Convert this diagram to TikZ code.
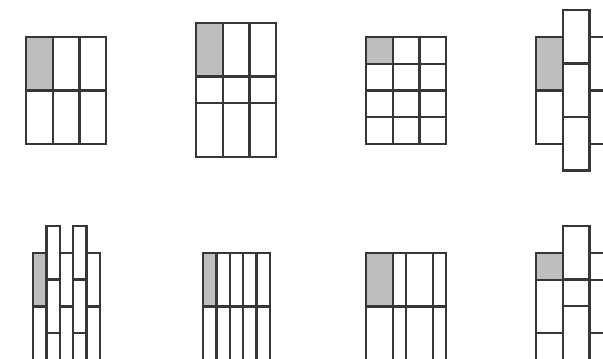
\documentclass[tikz,border=0pt]{standalone}
\begin{document}
\begin{tikzpicture}[x=1pt,y=-1pt]
\definecolor{edge}{RGB}{55,55,55}
\definecolor{shade}{RGB}{190,190,192}
\tikzset{cell/.style={draw=edge,line width=2.3pt},
  shadedcell/.style={fill=shade}}
\def\u{26.75}
\useasboundingbox (0,0) rectangle (603,359);
\clip (0,0) rectangle (603,359);
% shaded fills first
\fill[shadedcell] (26,37) rectangle ++(\u,2*\u);
\fill[shadedcell] (196,23) rectangle ++(\u,2*\u);
\fill[shadedcell] (366,37) rectangle ++(\u,\u);
\fill[shadedcell] (536,37) rectangle ++(\u,2*\u);
\fill[shadedcell] (33,253) rectangle ++(\u/2,2*\u);
\fill[shadedcell] (203,253) rectangle ++(\u/2,2*\u);
\fill[shadedcell] (366,253) rectangle ++(\u,2*\u);
\fill[shadedcell] (536,253) rectangle ++(\u,\u);
% Panel 1: 3 x 2 cells of u x 2u
\foreach \c in {0,1,2}{\foreach \r in {0,1}{
  \draw[cell] (26+\c*\u,37+\r*2*\u) rectangle ++(\u,2*\u);}}
% Panel 2
\foreach \c in {0,1,2}{
  \draw[cell] (196+\c*\u,23) rectangle ++(\u,2*\u);
  \draw[cell] (196+\c*\u,23+2*\u) rectangle ++(\u,\u);
  \draw[cell] (196+\c*\u,23+3*\u) rectangle ++(\u,2*\u);}
% Panel 3
\foreach \c in {0,1,2}{\foreach \r in {0,1,2,3}{
  \draw[cell] (366+\c*\u,37+\r*\u) rectangle ++(\u,\u);}}
% Panel 4
\foreach \r in {0,1}{
  \draw[cell] (536,37+\r*2*\u) rectangle ++(\u,2*\u);
  \draw[cell] (536+2*\u,37+\r*2*\u) rectangle ++(\u,2*\u);}
\foreach \r in {0,1,2}{
  \draw[cell] (536+\u,10+\r*2*\u) rectangle ++(\u,2*\u);}
% Panel 5
\foreach \c in {0,2,4}{\foreach \r in {0,1}{
  \draw[cell] (33+\c*\u/2,253+\r*2*\u) rectangle ++(\u/2,2*\u);}}
\foreach \c in {1,3}{\foreach \r in {0,1,2}{
  \draw[cell] (33+\c*\u/2,226+\r*2*\u) rectangle ++(\u/2,2*\u);}}
% Panel 6
\foreach \c in {0,...,4}{\foreach \r in {0,1}{
  \draw[cell] (203+\c*\u/2,253+\r*2*\u) rectangle ++(\u/2,2*\u);}}
% Panel 7
\foreach \r in {0,1}{
  \draw[cell] (366,253+\r*2*\u) rectangle ++(\u,2*\u);
  \draw[cell] (366+\u,253+\r*2*\u) rectangle ++(\u/2,2*\u);
  \draw[cell] (366+1.5*\u,253+\r*2*\u) rectangle ++(\u,2*\u);
  \draw[cell] (366+2.5*\u,253+\r*2*\u) rectangle ++(\u/2,2*\u);}
% Panel 8
\foreach \c in {0,2}{
  \draw[cell] (536+\c*\u,253) rectangle ++(\u,\u);
  \draw[cell] (536+\c*\u,253+\u) rectangle ++(\u,2*\u);
  \draw[cell] (536+\c*\u,253+3*\u) rectangle ++(\u,2*\u);}
\draw[cell] (536+\u,226) rectangle ++(\u,2*\u);
\draw[cell] (536+\u,226+2*\u) rectangle ++(\u,\u);
\draw[cell] (536+\u,226+3*\u) rectangle ++(\u,2*\u);
\end{tikzpicture}
\end{document}
